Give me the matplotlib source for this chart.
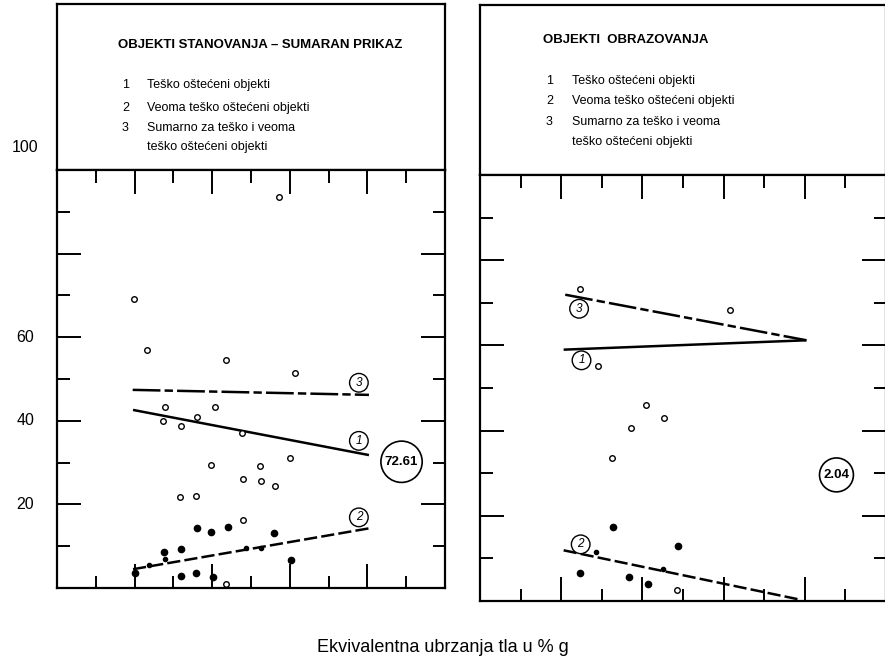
import numpy as np
import matplotlib.pyplot as plt

plt.rcParams['font.family'] = ['Liberation Sans', 'DejaVu Sans']
plt.rcParams['lines.scale_dashes'] = False

W, H = 885, 656  # figure size in pixels

# header texts
titles = ["OBJEKTI STANOVANJA \u2013 SUMARAN PRIKAZ", "OBJEKTI  OBRAZOVANJA"]
legend_nums = ["1", "2", "3", ""]
legend_txt = ["Teško oštećeni objekti", "Veoma teško oštećeni objekti",
              "Sumarno za teško i veoma", "teško oštećeni objekti"]
big_labels = ["72.61", "2.04"]
y_labels = [20, 40, 60, 100]
x_title = "Ekvivalentna ubrzanja tla u % g"

# ---- left panel: objekti stanovanja ----
st_open_x = [28.6, 9.9, 11.6, 21.8, 30.7, 13.9, 13.6, 16.0, 18.0, 20.3, 23.9,
             19.9, 26.1, 30.0, 24.0, 26.3, 28.1, 15.9, 17.9, 24.0, 21.8]
st_open_y = [93.5, 69.1, 57.0, 54.5, 51.4, 43.2, 40.0, 38.7, 40.9, 43.2, 37.0,
             29.4, 29.3, 31.1, 26.0, 25.6, 24.4, 21.8, 22.1, 16.3, 1.0]
st_fill_x = [18.0, 19.9, 22.0, 28.0, 16.0, 13.8, 10.0, 16.0, 17.9, 20.1, 30.2]
st_fill_y = [14.3, 13.5, 14.7, 13.1, 9.3, 8.5, 3.7, 2.9, 3.5, 2.7, 6.7]
st_small_x = [13.9, 11.8, 24.3, 26.3]
st_small_y = [6.9, 5.4, 9.5, 9.5]
st_line1_x, st_line1_y = [9.8, 40.2], [42.6, 31.8]
st_line2_x, st_line2_y = [9.8, 40.3], [4.5, 14.3]
st_line3_x, st_line3_y = [9.75, 40.2], [47.4, 46.2]

# ---- right panel: objekti obrazovanja ----
ob_open_x = [12.3, 30.8, 14.5, 20.5, 22.6, 18.6, 16.3, 24.2]
ob_open_y = [73.3, 68.2, 55.1, 46.1, 42.9, 40.6, 33.6, 2.5]
ob_fill_x = [16.4, 24.4, 12.3, 18.4, 20.7]
ob_fill_y = [17.3, 12.9, 6.5, 5.7, 4.0]
ob_small_x = [14.3, 22.5]
ob_small_y = [11.5, 7.6]
ob_line1_x, ob_line1_y = [10.3, 40.2], [59.0, 61.2]
ob_line2_x, ob_line2_y = [10.3, 39.2], [11.9, 0.4]
ob_line3_x, ob_line3_y = [10.5, 40.2], [71.9, 61.2]


def rect(x0, y0, x1, y1):
    return [x0 / W, 1 - y1 / H, (x1 - x0) / W, (y1 - y0) / H]


fig = plt.figure(figsize=(W / 100, H / 100), dpi=100)
fig.patch.set_facecolor('white')


def header(box, title, tx, ty, nx, lx, rows):
    hx = fig.add_axes(rect(*box))
    hx.set_xticks([])
    hx.set_yticks([])
    for s in hx.spines.values():
        s.set_linewidth(1.6)
    fig.text(tx / W, 1 - ty / H, title, fontsize=9.5, fontweight='bold',
             ha='left', va='center')
    for num, txt, ry in zip(legend_nums, legend_txt, rows):
        fig.text(nx / W, 1 - ry / H, num, fontsize=9, ha='left', va='center')
        fig.text(lx / W, 1 - ry / H, txt, fontsize=9, ha='left', va='center')


def panel(box, ox, oy, fx, fy, sx, sy, l1, l2, l3, marks, big, bigpos):
    ax = fig.add_axes(rect(*box))
    ax.set_xlim(0, 50)
    ax.set_ylim(0, 100)
    ax.set_xticks(np.arange(10, 50, 10))
    ax.set_xticks(np.arange(5, 50, 10), minor=True)
    ax.set_yticks(np.arange(20, 100, 20))
    ax.set_yticks(np.arange(10, 100, 20), minor=True)
    ax.tick_params(which='both', direction='in', top=True, right=True,
                   labelbottom=False, labelleft=False, width=1.4)
    ax.tick_params(which='major', length=17)
    ax.tick_params(which='minor', length=9)
    for s in ax.spines.values():
        s.set_linewidth(1.6)

    ax.plot(l1[0], l1[1], color='black', lw=1.8, solid_capstyle='butt')
    ax.plot(l2[0], l2[1], color='black', lw=1.8, dashes=(9.5, 3))
    ax.plot(l3[0], l3[1], color='black', lw=1.8, dashes=(20, 3, 6, 3))

    ax.plot(ox, oy, 'o', ms=4, mfc='white', mec='black', mew=1.0, ls='none')
    ax.plot(fx, fy, 'o', ms=4.5, color='black', ls='none')
    ax.plot(sx, sy, 'o', ms=3, color='black', ls='none')

    for txt, (mx, my) in zip(["1", "2", "3"], marks):
        ax.text(mx, my, txt, fontsize=8.5, style='italic', ha='center', va='center',
                bbox=dict(boxstyle='circle,pad=0.28', fc='white', ec='black', lw=1.0))
    ax.text(bigpos[0], bigpos[1], big, fontsize=9.5, fontweight='bold',
            ha='center', va='center',
            bbox=dict(boxstyle='circle,pad=0.3', fc='white', ec='black', lw=1.2))
    return ax


header((57, 4, 445, 170), titles[0], 118, 45, 122, 147, [85, 108, 128, 147])
header((480, 5, 886, 175), titles[1], 543, 40, 546, 572, [81, 101, 122, 142])

axl = panel((57, 170, 445, 588), st_open_x, st_open_y, st_fill_x, st_fill_y,
            st_small_x, st_small_y,
            (st_line1_x, st_line1_y), (st_line2_x, st_line2_y), (st_line3_x, st_line3_y),
            [(38.9, 35.2), (38.9, 16.9), (38.9, 49.1)], big_labels[0], (44.4, 30.2))
axr = panel((480, 175, 886, 601), ob_open_x, ob_open_y, ob_fill_x, ob_fill_y,
            ob_small_x, ob_small_y,
            (ob_line1_x, ob_line1_y), (ob_line2_x, ob_line2_y), (ob_line3_x, ob_line3_y),
            [(12.5, 56.5), (12.4, 13.3), (12.2, 68.6)], big_labels[1], (43.9, 29.6))

# y labels on the left, outside the frame
for v in y_labels:
    yy = v if v < 100 else v + 5.5
    axl.text(-0.082, yy, str(v), transform=axl.get_yaxis_transform(),
             fontsize=11.5, ha='center', va='center', clip_on=False)

fig.text(443 / W, 1 - 647 / H, x_title, fontsize=13, ha='center', va='center')

fig.savefig('out.png', dpi=100, facecolor='white')
